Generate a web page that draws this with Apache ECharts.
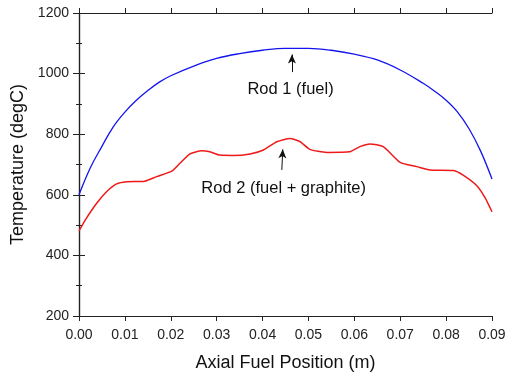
<!DOCTYPE html>
<html>
<head>
<meta charset="utf-8">
<script src="https://cdn.jsdelivr.net/npm/echarts@6/dist/echarts.min.js"></script>
<style>
  html, body { margin: 0; padding: 0; background: #fff; }
  #chart { width: 511px; height: 374px; }
</style>
</head>
<body>
<div id="chart"></div>
<script>
// Rod 1 (fuel) - blue curve, [position (m), temperature (degC)]
var rod1 = [
  [0.000, 600], [0.0025, 690], [0.005, 760], [0.0075, 825], [0.010, 873],
  [0.0125, 912], [0.015, 944], [0.0175, 972], [0.020, 993], [0.025, 1025],
  [0.030, 1050], [0.035, 1066], [0.040, 1077], [0.045, 1083], [0.050, 1083],
  [0.055, 1077], [0.060, 1064], [0.065, 1045], [0.070, 1012], [0.075, 968],
  [0.0775, 942], [0.080, 912], [0.0825, 873], [0.085, 818], [0.0875, 745],
  [0.090, 652]
];
// Rod 2 (fuel + graphite) - red curve
var rod2 = [
  [0.000, 481], [0.0015, 520], [0.00385, 572], [0.006, 610], [0.0082, 636],
  [0.0104, 643], [0.0143, 645], [0.0169, 660], [0.0202, 678], [0.022, 704],
  [0.0242, 735], [0.0267, 745], [0.0285, 742], [0.0307, 731], [0.0336, 730],
  [0.0373, 735], [0.0402, 748], [0.0431, 775], [0.046, 786], [0.0482, 775],
  [0.0503, 750], [0.054, 740], [0.059, 742], [0.0612, 759], [0.0634, 768],
  [0.0663, 759], [0.070, 707], [0.0736, 693], [0.0765, 682], [0.0816, 680],
  [0.0837, 665], [0.0867, 630], [0.0885, 590], [0.090, 544]
];
var xTicks = [0, 0.01, 0.02, 0.03, 0.04, 0.05, 0.06, 0.07, 0.08, 0.09];
var yTicks = [200, 400, 600, 800, 1000, 1200];
// annotations in data coordinates: text centre, arrow tail, arrow head
var notes = [
  { text: 'Rod 1 (fuel)', at: [0.0461, 949], from: [0.0464, 1005], to: [0.0464, 1063] },
  { text: 'Rod 2 (fuel + graphite)', at: [0.0446, 622], from: [0.0442, 682], to: [0.0444, 750] }
];

var font = 'Liberation Sans, Arial, sans-serif';
var axisColor = '#222';
var chart = echarts.init(document.getElementById('chart'));

var arrowLines = notes.map(function (n) {
  return [{ coord: n.from }, { coord: n.to }];
});

chart.setOption({
  animation: false,
  grid: { left: 79, right: 19, top: 13, bottom: 58, outerBoundsMode: 'none' },
  xAxis: [
    {
      type: 'value', min: 0, max: 0.09, interval: 0.01,
      name: 'Axial Fuel Position (m)', nameLocation: 'middle', nameGap: 38,
      nameTextStyle: { fontFamily: font, fontSize: 18, color: '#111' },
      axisLine: { show: true, lineStyle: { color: axisColor, width: 1.2 } },
      axisTick: { show: true, length: 5, lineStyle: { color: axisColor } },
      axisLabel: {
        fontFamily: font, fontSize: 14, color: '#222', margin: 12,
        formatter: function (v) { return v.toFixed(2); }
      },
      splitLine: { show: false }
    },
    {
      type: 'value', min: 0, max: 0.09, interval: 0.01, position: 'top',
      axisLine: { show: true, lineStyle: { color: axisColor, width: 1.2 } },
      axisTick: { show: true, length: 5, lineStyle: { color: axisColor } },
      axisLabel: { show: false },
      splitLine: { show: false }
    }
  ],
  yAxis: [
    {
      type: 'value', min: 200, max: 1200, interval: 200,
      name: 'Temperature (degC)', nameLocation: 'middle', nameGap: 42,
      nameTextStyle: { fontFamily: font, fontSize: 18, color: '#111' },
      axisLine: { show: true, lineStyle: { color: axisColor, width: 1.2 } },
      axisTick: { show: true, length: 6, lineStyle: { color: axisColor } },
      minorTick: { show: true, splitNumber: 2, length: 3, lineStyle: { color: axisColor } },
      axisLabel: {
        fontFamily: font, fontSize: 14, color: '#222', margin: 10,
        formatter: function (v) { return String(v); }
      },
      splitLine: { show: false }
    },
    {
      type: 'value', min: 200, max: 1200, interval: 200, position: 'right',
      axisLine: { show: true, lineStyle: { color: axisColor, width: 1.2 } },
      axisTick: { show: true, length: 6, lineStyle: { color: axisColor } },
      minorTick: { show: true, splitNumber: 2, length: 3, lineStyle: { color: axisColor } },
      axisLabel: { show: false },
      splitLine: { show: false }
    }
  ],
  series: [
    {
      name: 'Rod 1 (fuel)', type: 'line', data: rod1, smooth: 0.4,
      showSymbol: false, lineStyle: { color: '#1414f0', width: 1.3 },
      markLine: {
        silent: true, symbol: ['none', 'arrow'], symbolSize: [6, 9],
        label: { show: false },
        lineStyle: { color: '#111', width: 1, type: 'solid' },
        data: arrowLines
      }
    },
    {
      name: 'Rod 2 (fuel + graphite)', type: 'line', data: rod2, smooth: 0.2,
      showSymbol: false, lineStyle: { color: '#ee1a1a', width: 1.5 }
    }
  ]
});

// annotation texts placed from data coordinates
chart.setOption({
  graphic: notes.map(function (n) {
    var p = chart.convertToPixel({ xAxisIndex: 0, yAxisIndex: 0 }, n.at);
    return {
      type: 'text', x: p[0], y: p[1],
      style: {
        text: n.text, font: '16.5px ' + font, fill: '#111',
        align: 'center', verticalAlign: 'middle'
      }
    };
  })
});
</script>
</body>
</html>
